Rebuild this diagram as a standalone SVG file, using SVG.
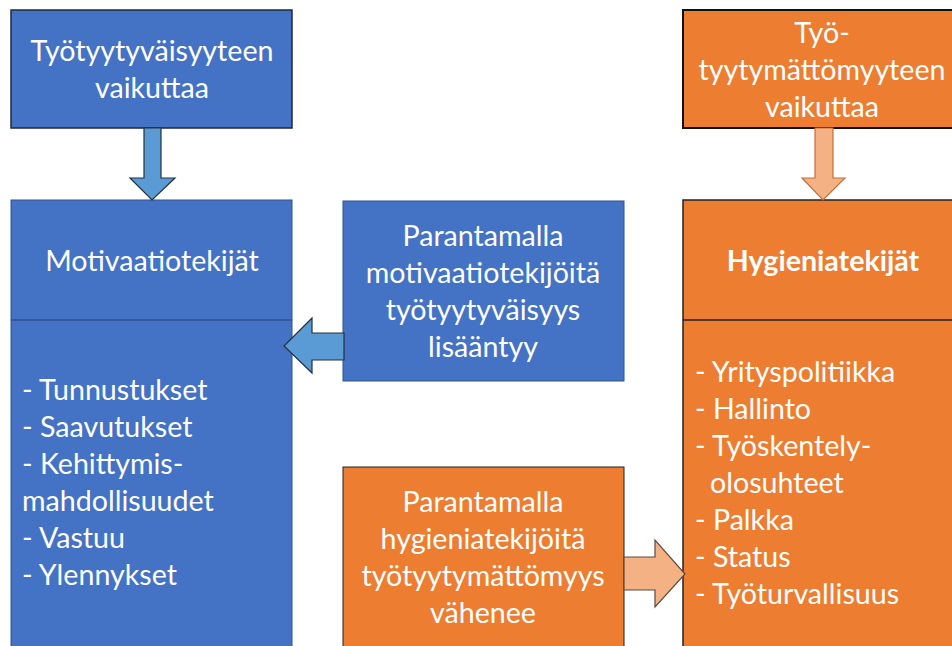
<svg xmlns="http://www.w3.org/2000/svg" width="952" height="646" viewBox="0 0 952 646">
<style>
text{font-family:Lato,"Open Sans","Liberation Sans",sans-serif;font-size:28.6px;fill:#fff}
.c{text-anchor:middle}
.b{font-weight:bold}
.blue{fill:#4472C4}
.orange{fill:#ED7D31}
</style>
<rect width="952" height="646" fill="#fff"/>
<g id="top-left">
<rect class="blue" x="11" y="10" width="281" height="118" stroke="#1f2a3a" stroke-width="1.5"/>
<text class="c" x="152" y="61">Työtyytyväisyyteen</text>
<text class="c" x="152" y="98">vaikuttaa</text>
</g>
<g id="motivaatio">
<rect class="blue" x="11" y="200" width="281" height="460" stroke="#2F528F" stroke-width="1"/>
<line x1="11" y1="320" x2="292" y2="320" stroke="#2F528F" stroke-width="1.5"/>
<text class="c" x="152" y="271">Motivaatiotekijät</text>
<text x="22" y="400">- Tunnustukset</text>
<text x="22" y="437">- Saavutukset</text>
<text x="22" y="474">- Kehittymis-</text>
<text x="22" y="511">mahdollisuudet</text>
<text x="22" y="548">- Vastuu</text>
<text x="22" y="585">- Ylennykset</text>
</g>
<g id="mid-blue">
<rect class="blue" x="343" y="201" width="281" height="180" stroke="#2F528F" stroke-width="1"/>
<text class="c" x="483" y="246">Parantamalla</text>
<text class="c" x="483" y="283">motivaatiotekijöitä</text>
<text class="c" x="483" y="320">työtyytyväisyys</text>
<text class="c" x="483" y="357">lisääntyy</text>
</g>
<g id="top-right">
<rect class="orange" x="683" y="10" width="281" height="118" stroke="#111" stroke-width="2"/>
<text class="c" x="822" y="43">Työ-</text>
<text class="c" x="822" y="80">tyytymättömyyteen</text>
<text class="c" x="822" y="117">vaikuttaa</text>
</g>
<g id="hygienia">
<rect class="orange" x="683" y="200" width="281" height="460" stroke="#222" stroke-width="1.5"/>
<line x1="683" y1="320" x2="964" y2="320" stroke="#222" stroke-width="1.5"/>
<text class="c b" x="823" y="271">Hygieniatekijät</text>
<text x="695" y="382">- Yrityspolitiikka</text>
<text x="695" y="419">- Hallinto</text>
<text x="695" y="456">- Työskentely-</text>
<text x="710" y="493">olosuhteet</text>
<text x="695" y="530">- Palkka</text>
<text x="695" y="567">- Status</text>
<text x="695" y="604">- Työturvallisuus</text>
</g>
<g id="mid-orange">
<rect class="orange" x="343" y="467" width="281" height="190" stroke="#222" stroke-width="1"/>
<text class="c" x="483" y="512">Parantamalla</text>
<text class="c" x="483" y="549">hygieniatekijöitä</text>
<text class="c" x="483" y="586">työtyytymättömyys</text>
<text class="c" x="483" y="623">vähenee</text>
</g>
<g id="connectors" stroke-width="1.2" stroke-linejoin="miter">
<polygon points="144,128 161,128 161,178 175,178 152,200 130,178 144,178" fill="#5B9BD5" stroke="#26303c"/>
<polygon points="815,128 833,128 833,178 845,178 823,200 802,178 815,178" fill="#F4B183" stroke="#C0703a"/>
<polygon points="344,333 344,360 312,360 312,373 284,346 312,318 312,333" fill="#5B9BD5" stroke="#26303c"/>
<polygon points="624,557 655,557 655,540 685,574 655,607 655,590 624,590" fill="#F4B183" stroke="#5a4a40"/>
</g>
</svg>
